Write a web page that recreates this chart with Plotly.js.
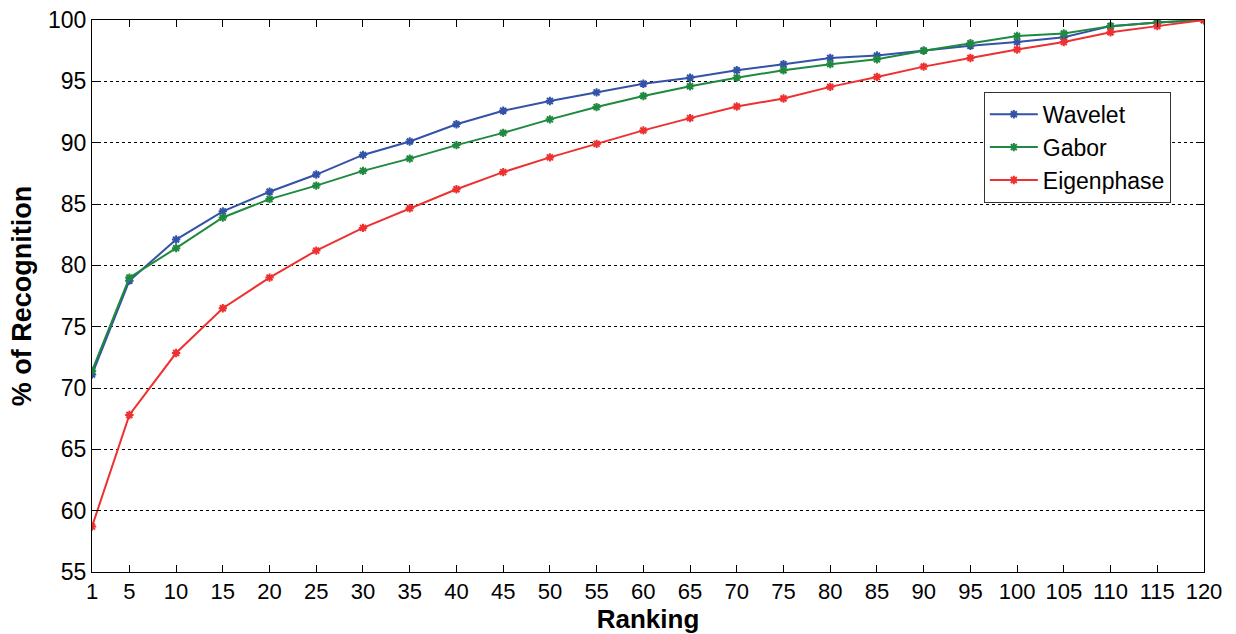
<!DOCTYPE html>
<html><head><meta charset="utf-8">
<script src="https://cdn.plot.ly/plotly-3.0.1.min.js"></script>
<style>html,body{margin:0;padding:0;background:#fff}#chart{width:1236px;height:634px}</style>
</head><body><div id="chart"></div>
<script>
const ranking = [1,5,10,15,20,25,30,35,40,45,50,55,60,65,70,75,80,85,90,95,100,105,110,115,120];
const wavelet = [71.1,78.75,82.1,84.4,86.0,87.4,89.0,90.1,91.5,92.6,93.4,94.1,94.8,95.3,95.9,96.4,96.9,97.1,97.5,97.9,98.2,98.6,99.5,99.8,100];
const gabor = [71.4,79.0,81.4,83.9,85.4,86.5,87.7,88.7,89.8,90.8,91.9,92.9,93.8,94.6,95.3,95.9,96.4,96.8,97.5,98.1,98.7,98.9,99.5,99.8,100];
const eigenphase = [58.7,67.8,72.85,76.5,79.0,81.2,83.05,84.65,86.2,87.6,88.8,89.9,91.0,92.0,92.95,93.6,94.55,95.35,96.2,96.9,97.6,98.2,99.0,99.5,100];
const seriesNames = ["Wavelet","Gabor","Eigenphase"];
const colors = ["#3352a8","#1f8a3f","#ee3030"];
const yTicks = [55,60,65,70,75,80,85,90,95,100];

const data = [wavelet,gabor,eigenphase].map((ys,i)=>({
  x: ranking, y: ys, name: seriesNames[i], type:'scatter', mode:'lines+markers',
  line:{color:colors[i], width:2},
  marker:{symbol:'asterisk-open', size:7, color:colors[i], line:{color:colors[i], width:2}}
}));

const font = {family:'Liberation Sans, Arial, sans-serif', color:'#000'};
const layout = {
  width:1236, height:634,
  margin:{l:92, r:32, t:20, b:62},
  paper_bgcolor:'#fff', plot_bgcolor:'#fff',
  font: Object.assign({size:22}, font),
  showlegend:true,
  legend:{x:0.802, y:0.87, xanchor:'left', yanchor:'top', bgcolor:'#fff', bordercolor:'#333', borderwidth:1,
    font:Object.assign({size:23}, font), tracegroupgap:0, itemwidth:48},
  xaxis:{range:[1,120], tickvals:ranking, ticktext:ranking.map(String), ticks:'inside', ticklen:7, tickcolor:'#000',
    showline:true, linecolor:'#000', linewidth:1, mirror:'ticks', showgrid:false, zeroline:false,
    tickfont:Object.assign({size:22}, font),
    title:{text:'<b>Ranking</b>', font:Object.assign({size:26}, font), standoff:0}},
  yaxis:{range:[55,100], tickvals:yTicks, ticks:'inside', ticklen:7, tickcolor:'#000',
    showline:true, linecolor:'#000', linewidth:1, mirror:'ticks', showgrid:true, gridcolor:'#000', gridwidth:1,
    griddash:'3px,3px', zeroline:false,
    tickfont:Object.assign({size:23}, font),
    title:{text:'<b>% of Recognition</b>', font:Object.assign({size:27}, font), standoff:8}}
};
Plotly.newPlot('chart', data, layout, {displayModeBar:false, staticPlot:true});
</script></body></html>
